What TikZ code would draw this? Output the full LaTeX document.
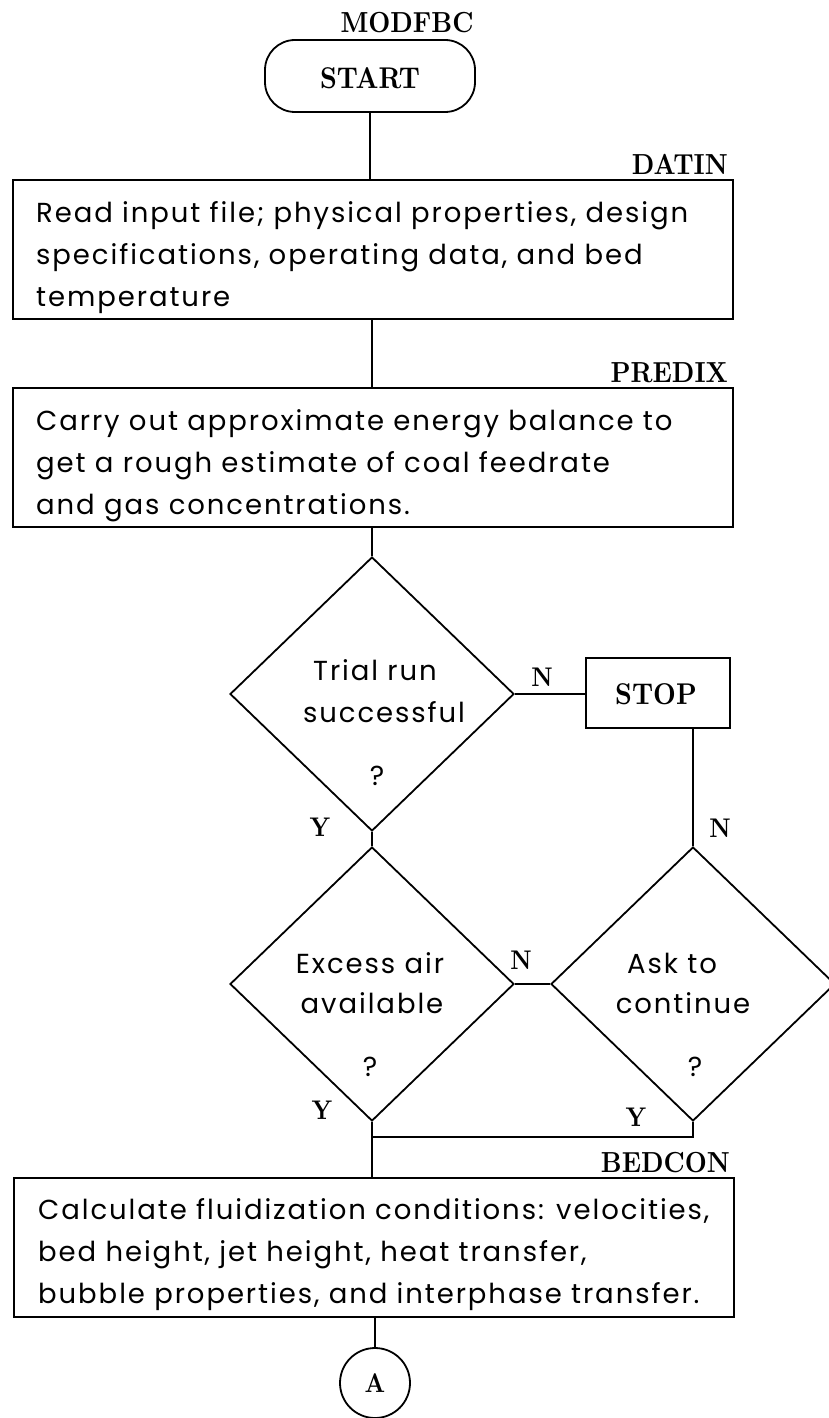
\documentclass[tikz,border=0pt]{standalone}
\usepackage{fontspec}
\newfontfamily\plotfont[LetterSpace=7]{Poppins}
\newfontfamily\lblfont[FakeStretch=0.88]{lmroman10-bold.otf}
\usetikzlibrary{shapes.geometric}
\begin{document}
\begin{tikzpicture}[x=1pt,y=-1pt,
  conn/.style={line width=1.8pt},
  procbox/.style={draw, line width=1.8pt, rectangle, inner sep=0pt},
  termbox/.style={draw, line width=1.8pt, rectangle, rounded corners=30pt, inner sep=0pt, minimum width=210pt, minimum height=72pt},
  dia/.style={draw, line width=1.8pt, diamond, inner sep=0pt, minimum width=284pt, minimum height=274pt},
  lbl/.style={font=\lblfont\fontsize{29}{32}\selectfont, inner sep=0pt},
  biglbl/.style={font=\lblfont\fontsize{30}{34}\selectfont, inner sep=0pt},
  yn/.style={font=\lblfont\fontsize{27}{30}\selectfont, inner sep=0pt},
  body/.style={font=\plotfont\fontsize{27.5}{42}\selectfont, inner sep=0pt},
]
\useasboundingbox (0,0) rectangle (828,1418);

% title and start
\node[lbl, anchor=base] (title) at (407,33) {MODFBC};
\node[termbox] (start) at (370,76) {};
\node[biglbl, anchor=base] (starttxt) at (370,89) {START};

% box 1
\node[lbl, anchor=base east] (datin) at (728,174) {DATIN};
\node[procbox, minimum width=720pt, minimum height=139pt] (b1) at (373,249.5) {};
\node[body, anchor=base west] (t1a) at (36,222) {Read input file; physical properties, design};
\node[body, anchor=base west] (t1b) at (36,264) {specifications, operating data, and bed};
\node[body, anchor=base west] (t1c) at (36,306) {temperature};

% box 2
\node[lbl, anchor=base east] (predix) at (728,382) {PREDIX};
\node[procbox, minimum width=720pt, minimum height=139pt] (b2) at (373,457.5) {};
\node[body, anchor=base west] (t2a) at (36,430) {Carry out approximate energy balance to};
\node[body, anchor=base west] (t2b) at (36,472) {get a rough estimate of coal feedrate};
\node[body, anchor=base west] (t2c) at (36,514) {and gas concentrations.};

% decision 1
\node[dia] (d1) at (372,694) {};
\node[body, anchor=base] (d1a) at (375,680) {Trial run};
\node[body, anchor=base] (d1b) at (384,722) {successful};
\node[body, anchor=base] (d1q) at (377,785) {?};

% stop
\node[procbox, minimum width=144pt, minimum height=70pt] (stop) at (658,693) {};
\node[biglbl, anchor=base] (stoptxt) at (656,704) {STOP};

% decision 2 and 3
\node[dia] (d2) at (372,984) {};
\node[body, anchor=base] (d2a) at (370,973) {Excess air};
\node[body, anchor=base] (d2b) at (372,1013) {available};
\node[body, anchor=base] (d2q) at (370,1076) {?};

\node[dia] (d3) at (693,984) {};
\node[body, anchor=base] (d3a) at (672,973) {Ask to};
\node[body, anchor=base] (d3b) at (683,1013) {continue};
\node[body, anchor=base] (d3q) at (695,1076) {?};

% box 3
\node[lbl, anchor=base east] (bedcon) at (730,1172) {BEDCON};
\node[procbox, minimum width=720pt, minimum height=139pt] (b3) at (374,1247.5) {};
\node[body, anchor=base west] (t3a) at (38,1219) {Calculate fluidization conditions: velocities,};
\node[body, anchor=base west] (t3b) at (38,1261) {bed height, jet height, heat transfer,};
\node[body, anchor=base west] (t3c) at (38,1303) {bubble properties, and interphase transfer.};

% connector A
\node[draw, line width=1.8pt, circle, minimum size=70pt, inner sep=0pt] (conA) at (375,1383) {};
\node[yn, anchor=base] (conAtxt) at (375,1392) {A};

\coordinate (join) at (372,1137);

% connectors
\draw[conn] (start.south) -- (start.south |- b1.north);
\draw[conn] (b1.south -| d1.north) -- (b2.north -| d1.north);
\draw[conn] (b2.south -| d1.north) -- (d1.north);
\draw[conn] (d1.south) -- (d2.north);
\draw[conn] (d1.east) -- (d1.east -| stop.west);
\draw[conn] (stop.south -| d3.north) -- (d3.north);
\draw[conn] (d2.east) -- (d3.west);
\draw[conn] (d2.south) -- (d2.south |- b3.north);
\draw[conn] (d3.south) |- (join);
\draw[conn] (b3.south -| conA.north) -- (conA.north);

% branch labels
\node[yn, anchor=base] (n1) at (542,686) {N};
\node[yn, anchor=base] (y1) at (320,836) {Y};
\node[yn, anchor=base] (n2) at (720,837) {N};
\node[yn, anchor=base] (n3) at (521,969) {N};
\node[yn, anchor=base] (y2) at (322,1119) {Y};
\node[yn, anchor=base] (y3) at (636,1126) {Y};
\end{tikzpicture}
\end{document}
